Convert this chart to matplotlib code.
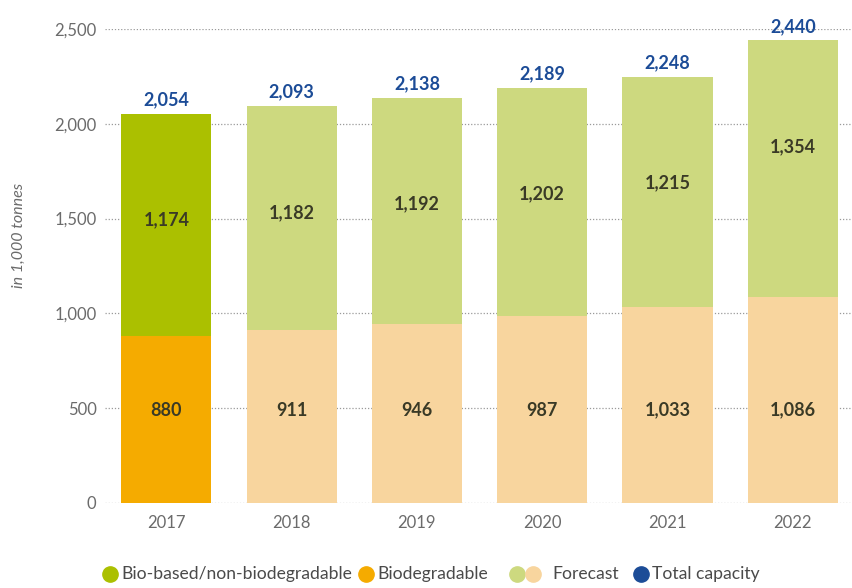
import matplotlib
matplotlib.use("Agg")
import matplotlib.pyplot as plt
from matplotlib.lines import Line2D

years = ["2017", "2018", "2019", "2020", "2021", "2022"]
biodegradable = [880, 911, 946, 987, 1033, 1086]
biobased_nonbio = [1174, 1182, 1192, 1202, 1215, 1354]
totals = [2054, 2093, 2138, 2189, 2248, 2440]
yticks = [0, 500, 1000, 1500, 2000, 2500]

C_GREEN = "#abc000"
C_ORANGE = "#f5ab00"
C_FGREEN = "#cdd97f"
C_FORANGE = "#f8d59e"
C_BLUE = "#1c4c97"
C_GRAY = "#6b6b6b"
C_LABEL = "#3a3a26"

plt.rcParams['font.family'] = ['Lato', 'DejaVu Sans']

fig = plt.figure(figsize=(8.53, 5.88), dpi=100)
ax = fig.add_axes([0.123, 0.1446, 0.877, 0.8061])

x = list(range(len(years)))
bot_colors = [C_ORANGE] + [C_FORANGE] * (len(years) - 1)
top_colors = [C_GREEN] + [C_FGREEN] * (len(years) - 1)

ax.bar(x, biodegradable, width=0.72, color=bot_colors, zorder=2)
ax.bar(x, biobased_nonbio, width=0.72, bottom=biodegradable, color=top_colors, zorder=2)

for i in x:
    ax.text(i, 490, f"{biodegradable[i]:,}", ha="center", va="center",
            fontsize=13, fontweight="bold", color=C_LABEL, zorder=3)
    gy = totals[i] - 560
    ax.text(i, gy, f"{biobased_nonbio[i]:,}", ha="center", va="center",
            fontsize=13, fontweight="bold", color=C_LABEL, zorder=3)
    ax.annotate(f"{totals[i]:,}", (i, biodegradable[i] + biobased_nonbio[i]),
                xytext=(0, 4), textcoords="offset points", ha="center", va="bottom",
                fontsize=13, fontweight="bold", color=C_BLUE, annotation_clip=False)

ax.set_xlim(-0.49, 5.48)
ax.set_ylim(0, 2500)
ax.set_yticks(yticks)
ax.set_yticklabels([f"{v:,}" for v in yticks])
ax.set_xticks(x)
ax.set_xticklabels(years)
ax.tick_params(axis="both", length=0, colors=C_GRAY, labelsize=12)
ax.tick_params(axis="y", pad=6)
ax.tick_params(axis="x", pad=9)
for s in ax.spines.values():
    s.set_visible(False)
ax.yaxis.grid(True, linestyle=(0, (1, 1.5)), color="#9a9a9a", linewidth=0.9, zorder=0)
ax.set_axisbelow(True)

fig.text(0.022, 0.60, "in 1,000 tonnes", rotation=90, ha="center", va="center",
         fontsize=11.5, fontstyle="italic", color=C_GRAY)

# legend
ly = 1 - 574 / 588
def dot(px, color):
    fig.add_artist(Line2D([px / 853], [ly], marker="o", markersize=11, color=color,
                          linestyle="none", transform=fig.transFigure))
def lab(px, s):
    fig.text(px / 853, ly, s, ha="left", va="center", fontsize=12.6, color="#4a4a4a")

dot(110, C_GREEN); lab(121, "Bio-based/non-biodegradable")
dot(366, C_ORANGE); lab(377, "Biodegradable")
dot(517, C_FGREEN); dot(533, C_FORANGE); lab(552, "Forecast")
dot(641, C_BLUE); lab(652, "Total capacity")

fig.savefig("out.png", dpi=100)
